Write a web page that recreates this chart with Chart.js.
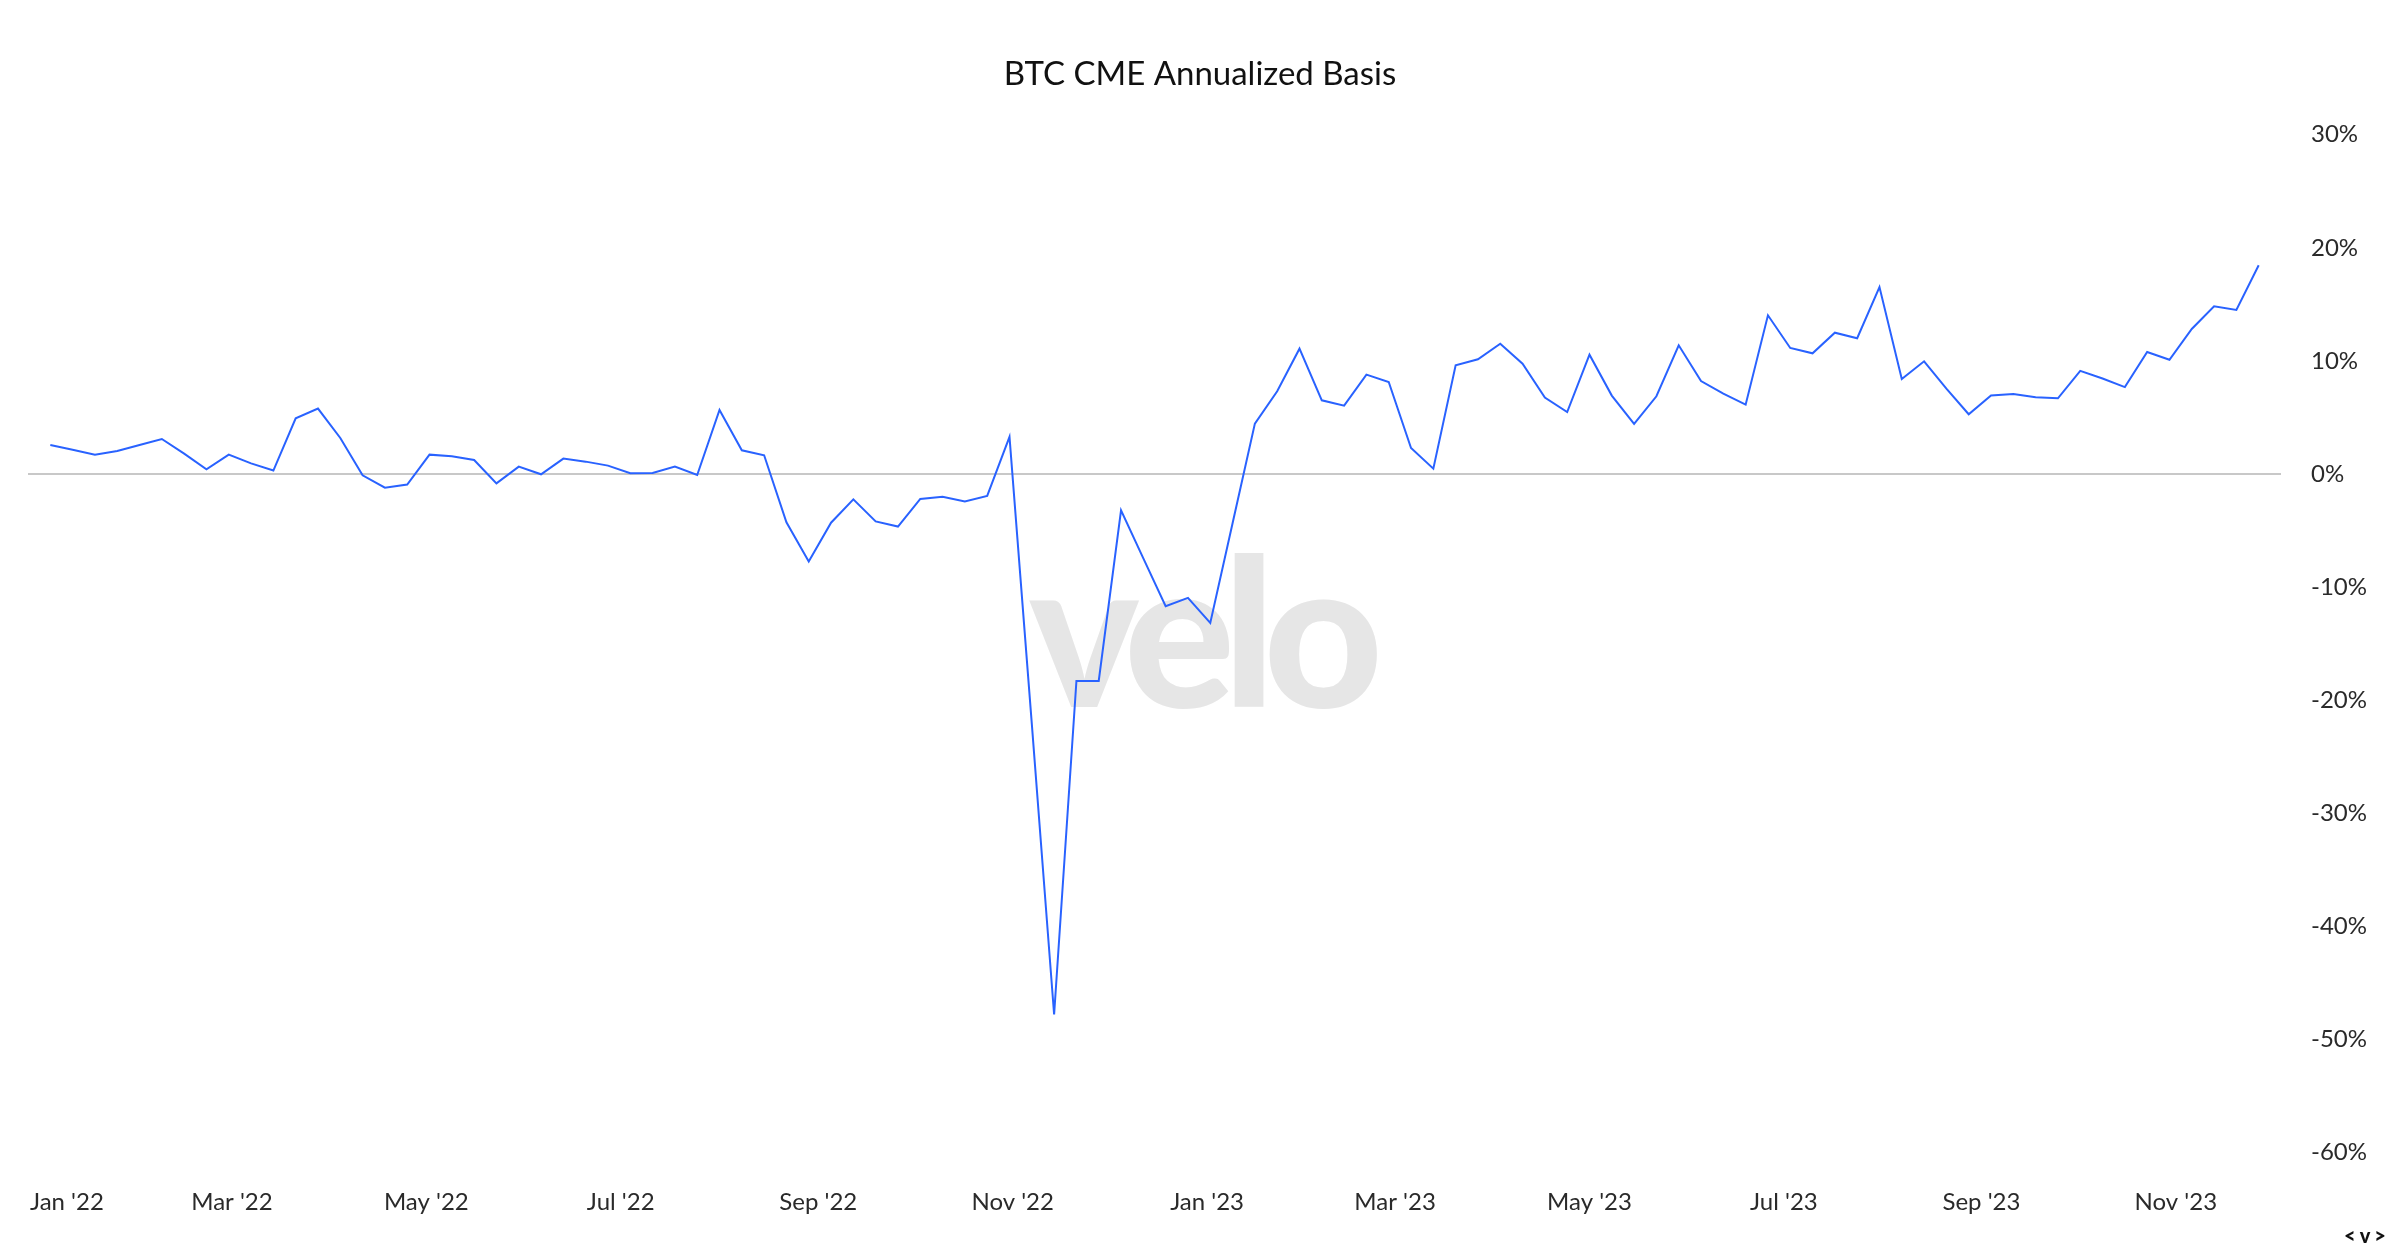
<!DOCTYPE html>
<html>
<head>
<meta charset="utf-8">
<script src="https://cdn.jsdelivr.net/npm/chart.js@4.4.1/dist/chart.umd.min.js"></script>
<style>
html,body{margin:0;padding:0;background:#ffffff;}
#wrap{width:2400px;height:1256px;position:relative;}
</style>
</head>
<body>
<div id="wrap"><canvas id="c" width="2400" height="1256"></canvas></div>
<script>
// ---------------- data ----------------
const chartTitle = 'BTC CME Annualized Basis';
const firstWeek = '2022-01-03';          // first weekly observation (Monday)
const basis = [
  2.56, 2.15, 1.71, 2.03, 2.56, 3.09, 1.80, 0.41, 1.71, 0.94,
  0.30, 4.92, 5.78, 3.18, -0.12, -1.21, -0.94, 1.71, 1.56, 1.24,
  -0.83, 0.65, -0.03, 1.36, 1.09, 0.74, 0.06, 0.09, 0.65, -0.09,
  5.66, 2.09, 1.65, -4.27, -7.74, -4.31, -2.25, -4.19, -4.65, -2.21,
  -2.02, -2.44, -1.94, 3.28, -22.1, -47.8, -18.3, -18.3, -3.21, -7.46,
  -11.7, -10.96, -13.17, -4.36, 4.45, 7.31, 11.08, 6.51, 6.04, 8.78,
  8.13, 2.30, 0.47, 9.61, 10.14, 11.52, 9.75, 6.75, 5.48, 10.55,
  6.93, 4.42, 6.87, 11.38, 8.22, 7.10, 6.13, 14.03, 11.14, 10.67,
  12.49, 12.0, 16.53, 8.40, 9.96, 7.54, 5.28, 6.93, 7.07, 6.78,
  6.69, 9.12, 8.44, 7.68, 10.79, 10.1, 12.82, 14.82, 14.5, 18.45
];
const tickMonths = ['2022-01','2022-03','2022-05','2022-07','2022-09','2022-11',
                    '2023-01','2023-03','2023-05','2023-07','2023-09','2023-11'];
const tickLabels = ["Jan '22","Mar '22","May '22","Jul '22","Sep '22","Nov '22",
                    "Jan '23","Mar '23","May '23","Jul '23","Sep '23","Nov '23"];
const yTickValues = [30, 20, 10, 0, -10, -20, -30, -40, -50, -60];

// ---------------- helpers ----------------
const DAY = 86400000;
const origin = Date.UTC(2022, 0, 1);
const dayOf = s => { const p = s.split('-').map(Number); return (Date.UTC(p[0], p[1]-1, p[2]||1) - origin) / DAY; };
const startDay = dayOf(firstWeek);
const points = basis.map((v, i) => ({ x: startDay + 7 * i, y: v }));
const tickDays = tickMonths.map(dayOf);

const FONT = 'Lato, "Noto Sans", sans-serif';
const TEXT = '#2a2a2a';

const decorations = {
  id: 'decorations',
  beforeDraw(chart) {
    // keep the first x label inside the plot (edge justification)
    const sc = chart.scales.x;
    const items = sc.getLabelItems(chart.chartArea);
    if (items && items.length) {
      const first = items[0];
      first.options.textAlign = 'left';
      first.options.translation[0] = chart.chartArea.left + 2;
    }
  },
  beforeDatasetsDraw(chart) {
    const ctx = chart.ctx;
    ctx.save();
    ctx.fillStyle = '#e6e6e6';
    ctx.font = '900 207px Lato, sans-serif';
    try { ctx.letterSpacing = '-12px'; } catch (e) {}
    ctx.textAlign = 'center';
    ctx.textBaseline = 'alphabetic';
    ctx.fillText('velo', chart.width / 2, 707);
    ctx.restore();
  },
  afterDraw(chart) {
    const ctx = chart.ctx;
    ctx.save();
    ctx.fillStyle = '#111111';
    ctx.font = '900 20px Lato, sans-serif';
    try { ctx.letterSpacing = '4px'; } catch (e) {}
    ctx.textAlign = 'center';
    ctx.textBaseline = 'middle';
    ctx.fillText('<v>', 2367, 1237);
    ctx.restore();
  }
};

new Chart(document.getElementById('c'), {
  type: 'line',
  data: {
    datasets: [{
      label: chartTitle,
      data: points,
      xAxisID: 'x',
      yAxisID: 'y',
      borderColor: 'rgb(41, 98, 255)',
      borderWidth: 2,
      pointRadius: 0,
      pointHoverRadius: 0,
      tension: 0,
      fill: false
    }]
  },
  options: {
    responsive: false,
    animation: false,
    devicePixelRatio: 1,
    layout: { padding: { left: 0, right: 0, top: 0, bottom: 0 } },
    plugins: {
      legend: { display: false },
      tooltip: { enabled: false },
      title: {
        display: true,
        text: chartTitle,
        color: '#111111',
        font: { family: FONT, size: 33, weight: 'normal' },
        padding: { top: 55, bottom: 40.1 }
      }
    },
    scales: {
      x: {
        type: 'linear',
        min: startDay - 7,
        max: startDay + 7 * basis.length,
        grid: { display: false, drawTicks: false },
        border: { display: false },
        afterBuildTicks: s => { s.ticks = tickDays.map(v => ({ value: v })); },
        afterFit: s => { s.height = 103.5; s.paddingLeft = 0; s.paddingRight = 0; },
        ticks: {
          autoSkip: false, maxRotation: 0, minRotation: 0,
          padding: 35,
          color: TEXT,
          font: { family: FONT, size: 24 },
          callback: (v, i) => tickLabels[i]
        }
      },
      yLeft: {
        type: 'linear',
        position: 'left',
        display: true,
        grid: { display: false, drawTicks: false },
        border: { display: false },
        ticks: { display: false },
        afterFit: s => { s.width = 28; }
      },
      y: {
        type: 'linear',
        position: 'right',
        min: -60, max: 30,
        afterBuildTicks: s => { s.ticks = yTickValues.map(v => ({ value: v })); },
        afterFit: s => { s.width = 119; },
        grid: {
          drawTicks: false,
          lineWidth: 2,
          color: c => (c.tick && c.tick.value === 0) ? '#c8c8c8' : 'rgba(0,0,0,0)'
        },
        border: { display: false },
        ticks: {
          padding: 30,
          color: TEXT,
          font: { family: FONT, size: 24 },
          callback: v => v + '%'
        }
      }
    }
  },
  plugins: [decorations]
});
</script>
</body>
</html>
